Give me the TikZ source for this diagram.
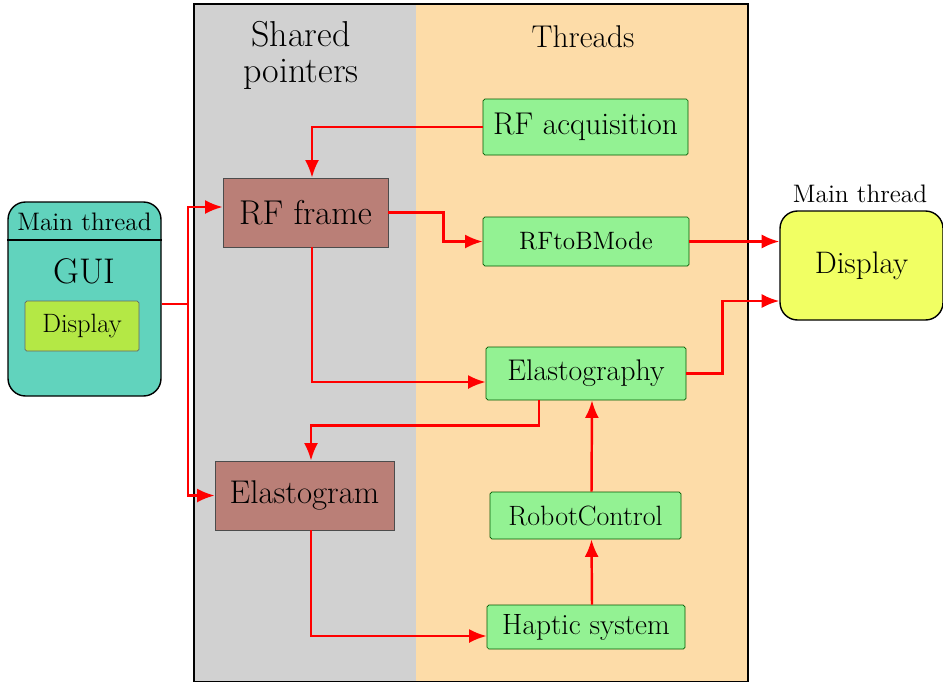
\documentclass[tikz,border=0pt]{standalone}
\usetikzlibrary{arrows.meta}

\definecolor{sharedgray}{RGB}{209,209,209}
\definecolor{threadpeach}{RGB}{253,220,168}
\definecolor{threadgreen}{RGB}{147,242,147}
\definecolor{pointerbrown}{RGB}{186,127,119}
\definecolor{guiteal}{RGB}{97,211,189}
\definecolor{guilime}{RGB}{180,232,69}
\definecolor{displayyellow}{RGB}{241,255,99}

\begin{document}
\begin{tikzpicture}[
    threadbox/.style={draw=green!35!black, fill=threadgreen, rounded corners=1pt, inner sep=0pt},
    pointerbox/.style={draw=black!70, fill=pointerbrown, inner sep=0pt},
    link/.style={draw=red, line width=1.4pt, -{Latex[length=10pt,width=8pt]}},
    plain/.style={draw=red, line width=1.4pt}
]
    \useasboundingbox (0,0) rectangle (18.86,-13.62);

    % Shared pointers and threads panels
    \fill[sharedgray] (3.88,-0.08) rectangle (8.32,-13.7);
    \fill[threadpeach] (8.32,-0.08) rectangle (14.96,-13.7);
    \draw[thick] (3.88,-0.08) rectangle (14.96,-13.64);
    \node[align=center, font=\fontsize{20.5}{20.5}\selectfont] (sharedtitle) at (6.02,-1.1) {Shared\\pointers};
    \node[font=\fontsize{17.9}{21}\selectfont] (threadtitle) at (11.66,-0.74) {Threads};

    % Threads
    \node[threadbox, minimum width=4.1cm, minimum height=1.12cm, font=\fontsize{17.9}{21}\selectfont] (rfacq) at (11.71,-2.54) {RF acquisition};
    \node[threadbox, minimum width=4.12cm, minimum height=0.98cm, font=\fontsize{14.3}{17}\selectfont] (bmode) at (11.72,-4.83) {RFtoBMode};
    \node[threadbox, minimum width=4.0cm, minimum height=1.06cm, font=\fontsize{17}{20}\selectfont] (elasto) at (11.72,-7.47) {Elastography};
    \node[threadbox, minimum width=3.82cm, minimum height=0.94cm, font=\fontsize{15.9}{19}\selectfont] (robot) at (11.71,-10.31) {RobotControl};
    \node[threadbox, minimum width=3.96cm, minimum height=0.88cm, font=\fontsize{16.7}{20}\selectfont] (haptic) at (11.72,-12.54) {Haptic system};

    % Shared pointers
    \node[pointerbox, minimum width=3.3cm, minimum height=1.38cm, font=\fontsize{19.6}{23}\selectfont] (rfframe) at (6.11,-4.25) {RF frame};
    \node[pointerbox, minimum width=3.58cm, minimum height=1.38cm, font=\fontsize{18.7}{22}\selectfont] (elgram) at (6.09,-9.91) {Elastogram};

    % GUI (main thread, left)
    \node[draw=black, thick, fill=guiteal, rounded corners=10pt, minimum width=3.06cm, minimum height=3.88cm] (gui) at (1.69,-5.98) {};
    \draw[thick] (gui.west |- 0,-4.8) -- (gui.east |- 0,-4.8);
    \node[font=\fontsize{14.4}{17}\selectfont] (guihead) at (1.69,-4.44) {Main thread};
    \node[font=\fontsize{20.3}{24}\selectfont] (guilabel) at (1.69,-5.42) {GUI};
    \node[draw=black!60, fill=guilime, rounded corners=1pt, minimum width=2.28cm, minimum height=1.0cm, font=\fontsize{15.1}{18}\selectfont] (guidisplay) at (1.64,-6.52) {Display};

    % Display (main thread, right)
    \node[draw=black, thick, fill=displayyellow, rounded corners=10pt, minimum width=3.26cm, minimum height=2.18cm, font=\fontsize{17.7}{21}\selectfont] (display) at (17.23,-5.31) {Display};
    \node[font=\fontsize{14.4}{17}\selectfont] (displayhead) at (17.2,-3.88) {Main thread};

    % Connections
    \coordinate (split) at (3.76,-6.08);
    \draw[plain] (gui.east |- split) -- (split);
    \draw[link] (split) |- ([yshift=0.11cm]rfframe.west);
    \draw[link] (split) |- (elgram.west);
    \draw[link] (rfacq.west) -| ([xshift=0.13cm]rfframe.north);
    \draw[link] (rfframe.east) -- ++(1.1,0) |- (bmode.west);
    \draw[link] ([xshift=0.13cm]rfframe.south) |- ([yshift=-0.17cm]elasto.west);
    \draw[link] (bmode.east) -- (display.west |- bmode.east);
    \draw[link] (elasto.east) -- ++(0.72,0) |- ([yshift=-0.71cm]display.west);
    \draw[link] ([xshift=-0.94cm]elasto.south) -- ++(0,-0.5) -| ([xshift=0.13cm]elgram.north);
    \draw[link] ([xshift=0.13cm]elgram.south) |- ([yshift=-0.18cm]haptic.west);
    \draw[link] ([xshift=0.12cm]haptic.north) -- ([xshift=0.12cm]robot.south);
    \draw[link] ([xshift=0.12cm]robot.north) -- ([xshift=0.12cm]elasto.south);
\end{tikzpicture}
\end{document}
